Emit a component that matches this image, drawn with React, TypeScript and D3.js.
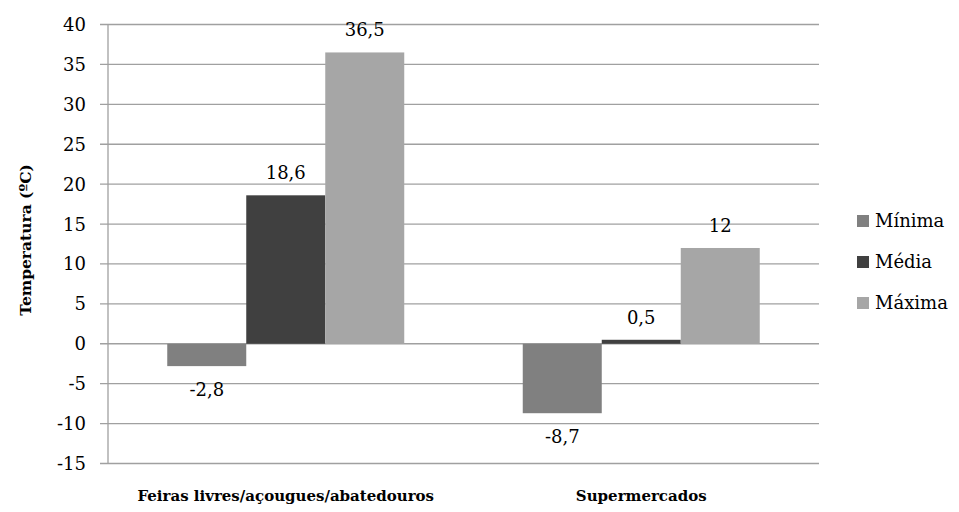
import React from "react";
import * as d3 from "d3";

const categories = ["Feiras livres/açougues/abatedouros", "Supermercados"];
const seriesNames = ["Mínima", "Média", "Máxima"];
const minima = [-2.8, -8.7];
const media = [18.6, 0.5];
const maxima = [36.5, 12];
const seriesColors = ["#808080", "#404040", "#a6a6a6"];
const yTicks = [40, 35, 30, 25, 20, 15, 10, 5, 0, -5, -10, -15];

const W = 959, H = 512;
const left = 108, right = 819, top = 24.5, bottom = 463.5;
const font = "'DejaVu Serif', serif";

export default function App() {
  const values = [minima, media, maxima];
  const y = d3.scaleLinear().domain([-15, 40]).range([bottom, top]);
  const x0 = d3.scaleBand().domain(categories).range([left, right]).paddingInner(0).paddingOuter(0);
  const bw = x0.bandwidth();
  const barW = bw / (3 + 1.5);
  const x1 = d3.scaleBand().domain(seriesNames).range([0, barW * 3]);
  const fmt = (v: number) => String(v).replace(".", ",");
  const ts = { fontFamily: font };
  return (
    <svg width={W} height={H} style={{ position: "absolute", left: 0, top: 0, background: "#fff", fontFamily: font }}>
      {yTicks.map((t) => (
        <g key={t}>
          <line x1={left - 8} x2={right} y1={y(t)} y2={y(t)} stroke="#a0a0a0" strokeWidth={1.3} />
          <text style={ts} x={left - 22} y={y(t)} dy="0.36em" textAnchor="end" fontSize={18} fill="#000">{t}</text>
        </g>
      ))}
      <line x1={left} x2={left} y1={top} y2={bottom} stroke="#a0a0a0" strokeWidth={1.3} />
      {categories.map((c, ci) => {
        const g0 = (x0(c) as number) + barW * 0.75;
        return (
          <g key={c}>
            {seriesNames.map((s, si) => {
              const v = values[si][ci];
              const bx = g0 + (x1(s) as number);
              const y0 = y(0), yv = y(v);
              return (
                <g key={s}>
                  <rect x={bx} width={x1.bandwidth()} y={Math.min(y0, yv)} height={Math.abs(yv - y0)} fill={seriesColors[si]} />
                  <text style={ts} x={bx + x1.bandwidth() / 2} y={v >= 0 ? yv - 16 : yv + 30} textAnchor="middle" fontSize={18} fill="#000">{fmt(v)}</text>
                </g>
              );
            })}
            <text style={ts} x={(x0(c) as number) + bw / 2} y={501} textAnchor="middle" fontSize={15} fontWeight="bold">{c}</text>
          </g>
        );
      })}
      <text style={ts} transform={`translate(31,240) rotate(-90)`} textAnchor="middle" fontSize={15.5} fontWeight="bold">Temperatura (ºC)</text>
      {seriesNames.map((s, i) => (
        <g key={s} transform={`translate(857,${221 + i * 41})`}>
          <rect x={0} y={-6} width={12} height={12} fill={seriesColors[i]} />
          <text style={ts} x={18} y={0} dy="0.36em" fontSize={18}>{s}</text>
        </g>
      ))}
    </svg>
  );
}
